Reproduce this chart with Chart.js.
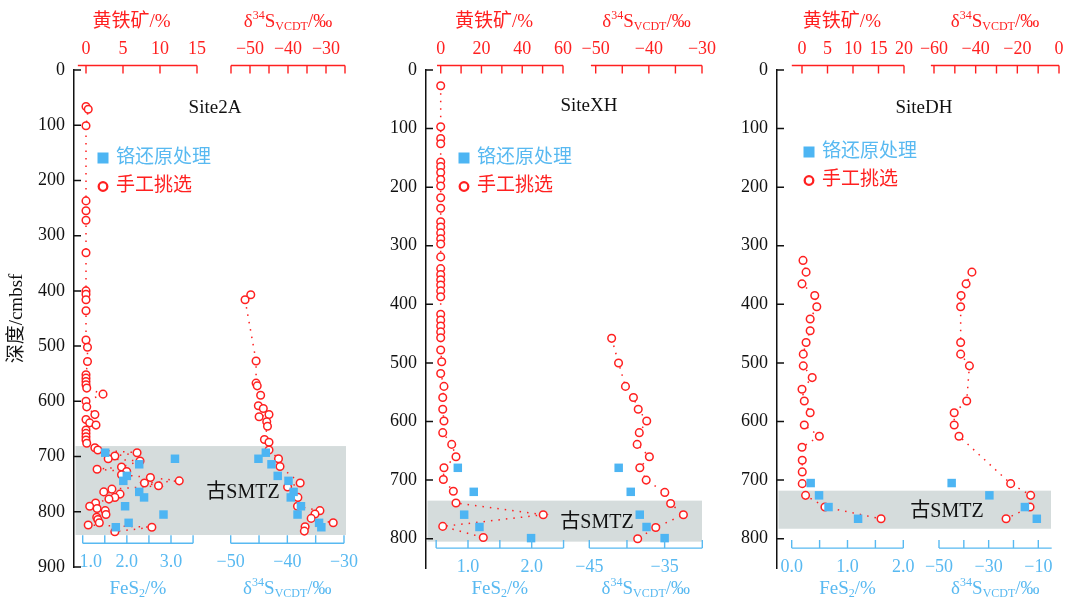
<!DOCTYPE html>
<html>
<head>
<meta charset="utf-8">
<script src="https://cdn.jsdelivr.net/npm/chart.js@4.4.1/dist/chart.umd.min.js"></script>
<style>
html, body { margin: 0; padding: 0; background: #fff; }
#wrap { position: relative; width: 1069px; height: 610px; overflow: hidden; }
canvas { position: absolute; top: 0; }
</style>
</head>
<body>
<div id="wrap">
  <canvas id="c0" width="372" height="610" style="left:0px"></canvas>
  <canvas id="c1" width="362" height="610" style="left:355px"></canvas>
  <canvas id="c2" width="354" height="610" style="left:715px"></canvas>
</div>
<script>
// ---------- data ----------
// Site2A : hand-picked pyrite (red), Cr-reduction (blue)
const s2aPyriteDepth = [66, 71, 101, 237, 255, 272, 331, 400, 406, 416, 436, 489, 502, 528, 552, 558, 564, 570, 576, 587,
  600, 610, 624, 633, 639, 643, 652, 658, 664, 670, 676, 684, 688, 693, 699, 704, 708, 719, 723, 727,
  733, 738, 744, 748, 753, 759, 764, 768, 774, 777, 784, 790, 794, 798, 805, 810, 814, 820, 824, 828, 836];
const s2aPyrite = [0, 0.3, 0, 0, 0, 0, 0, 0, 0, 0, 0, 0, 0.2, 0.2, 0, 0, 0, 0, 0.1, 2.3,
  0, 0.1, 1.2, 0, 0.5, 1.35, 0, 0, 0, 0, 0.1, 1.2, 1.6, 6.9, 3.9, 3.0, 7.3, 4.8, 1.5, 5.5,
  4.8, 8.7, 12.6, 7.9, 9.8, 3.5, 2.4, 4.6, 3.9, 3.1, 1.3, 0.5, 1.5, 2.6, 2.7, 1.45, 1.6, 1.8, 0.3, 8.9, 3.9];
const s2aD34sDepth = [407, 416, 527, 567, 572, 589, 608, 613, 624, 628, 637, 645, 669, 674, 688, 704, 718, 748, 755, 774,
  790, 798, 804, 812, 820, 827, 835];
const s2aD34s = [-49.8, -51.3, -48.4, -48.4, -48.1, -47.2, -47.8, -46.5, -45.0, -47.6, -45.6, -45.4, -46.2, -45.0, -45.0, -42.5, -42.1, -36.8, -40.1, -37.4,
  -37.5, -31.6, -32.9, -33.9, -28.1, -35.5, -35.7];
const s2aCrDepth = [693, 704, 714, 735, 744, 764, 774, 790, 805, 820, 828];
const s2aCrFes2 = [1.51, 3.09, 2.28, 2.0, 1.92, 2.28, 2.39, 1.96, 2.83, 2.04, 1.75];
const s2aCrD34s = [-43.8, -45.1, -42.8, -41.7, -39.8, -38.9, -39.4, -37.6, -38.2, -34.4, -34.0];
const s2aSmtz = [681, 842];

// SiteXH
const xhPyriteDepth = [27, 97, 117, 126, 157, 165, 175, 187, 198, 218, 236, 259, 268, 278, 288, 297, 319, 339, 349, 358,
  367, 377, 387, 417, 427, 437, 447, 457, 478, 498, 518, 540, 559, 579, 599, 619, 639, 660, 679, 699,
  719, 739, 759, 779, 798];
const xhPyrite = [0, 0, 0, 0, 0, 0, 0, 0, 0, 0, 0, 0, 0, 0, 0, 0, 0, 0, 0, 0,
  0, 0, 0, 0, 0, 0, 0, 0, 0, 0.5, 0, 1.6, 1.0, 1.0, 1.6, 1.0, 5.4, 7.5, 1.6, 1.3,
  6.2, 7.5, 50.3, 1.0, 20.9];
const xhD34sDepth = [458, 500, 540, 559, 579, 599, 619, 639, 660, 679, 700, 721, 740, 759, 781, 800];
const xhD34s = [-47.0, -45.7, -44.4, -42.9, -42.0, -40.4, -41.8, -42.2, -39.9, -41.7, -40.5, -37.0, -35.9, -33.5, -38.7, -42.1];
const xhCrDepth = [679, 720, 759, 780, 799];
const xhCrFes2 = [0.84, 1.09, 0.94, 1.18, 1.99];
const xhCrD34s = [-41.1, -39.5, -38.3, -37.4, -35.0];
const xhSmtz = [735, 805];

// SiteDH
const dhPyriteDepth = [325, 345, 365, 385, 404, 425, 445, 465, 485, 505, 525, 545, 565, 585, 606, 625, 644, 666, 686, 706,
  726, 746, 766];
const dhPyrite = [0.2, 0.8, 0.0, 2.5, 2.9, 1.6, 1.6, 0.8, 0.25, 0.25, 2.0, 0.0, 0.45, 1.6, 0.45, 3.4, 0.0, 0.05, 0.05, 0.05,
  0.7, 4.5, 15.5];
const dhD34sDepth = [345, 365, 385, 404, 465, 485, 505, 565, 585, 606, 625, 706, 726, 746, 766];
const dhD34s = [-41.8, -44.6, -47.0, -47.2, -47.2, -47.2, -43.0, -44.3, -50.3, -50.3, -48.0, -23.2, -13.6, -13.9, -25.4];
const dhCrDepth = [705, 726, 746, 766];
const dhCrFes2 = [0.34, 0.49, 0.66, 1.19];
const dhCrD34s = [-44.9, -29.7, -15.4, -10.6];
const dhSmtz = [718, 783];

// tick marks and tick labels of the split axes
const s2aPyTicks = [0, 5, 10, 15],            s2aPyLabels = [0, 5, 10, 15];
const s2aStTicks = [-55, -50, -45, -40, -35, -30, -25], s2aStLabels = [-50, -40, -30];
const s2aFeTicks = [1, 1.5, 2, 2.5, 3, 3.5],  s2aFeLabels = [1, 2, 3];
const s2aSbTicks = [-50, -45, -40, -35, -30], s2aSbLabels = [-50, -40, -30];
const xhPyTicks = [0, 10, 20, 30, 40, 50, 60], xhPyLabels = [0, 20, 40, 60];
const xhStTicks = [-50, -45, -40, -35, -30],  xhStLabels = [-50, -40, -30];
const xhFeTicks = [0.5, 1, 1.5, 2, 2.5],      xhFeLabels = [1, 2];
const xhSbTicks = [-45, -40, -35, -30],       xhSbLabels = [-45, -35];
const dhPyTicks = [0, 5, 10, 15, 20],         dhPyLabels = [0, 5, 10, 15, 20];
const dhStTicks = [-60, -50, -40, -30, -20, -10, 0], dhStLabels = [-60, -40, -20, 0];
const dhFeTicks = [0, 0.5, 1, 1.5, 2],        dhFeLabels = [0, 1, 2];
const dhSbTicks = [-50, -40, -30, -20, -10],  dhSbLabels = [-50, -30, -10];

// ---------- style ----------
const RED = '#ff2020';
const BLUE = '#4db5f3';
const BLUE_TXT = '#58b9f1';
const BAND = '#d5dcdc';
const SERIF = '"Liberation Serif", "Times New Roman", serif';
const MIX = '"Liberation Serif", "Noto Sans CJK SC", serif';

// ---------- layout of the three panels (page pixels) ----------
const panels = [
  { canvas: 'c0', left: 0, plotL: 74, plotR: 346, top: 70, bottom: 567, depthMax: 900, axisDepth: 857, yTitle: true,
    name: 'Site2A', nameX: 215, nameY: 108, legX: 103, legY: 158, smtz: s2aSmtz,
    py: [s2aPyrite, s2aPyriteDepth], st: [s2aD34s, s2aD34sDepth], fe: [s2aCrFes2, s2aCrDepth], sb: [s2aCrD34s, s2aCrDepth],
    axes: {
      xPy: { val: [0, 15], px: [86, 197], line: [-1.1, 15], ticks: s2aPyTicks, labels: s2aPyLabels, dec: 0, dx: -6 },
      xSt: { val: [-50, -30], px: [250, 326], line: [-55, -25], ticks: s2aStTicks, labels: s2aStLabels, dec: 0 },
      xFe: { val: [1, 3], px: [82.7, 171], line: [1, 3.5], ticks: s2aFeTicks, labels: s2aFeLabels, dec: 1, shift: [8, 0, 0] },
      xSb: { val: [-50, -30], px: [230.7, 344], line: [-50, -30], ticks: s2aSbTicks, labels: s2aSbLabels, dec: 0 } } },
  { canvas: 'c1', left: 355, plotL: 426, plotR: 702, top: 70, bottom: 568, depthMax: 850, axisDepth: 816, yTitle: false,
    name: 'SiteXH', nameX: 589, nameY: 106, legX: 464, legY: 158, smtz: xhSmtz,
    py: [xhPyrite, xhPyriteDepth], st: [xhD34s, xhD34sDepth], fe: [xhCrFes2, xhCrDepth], sb: [xhCrD34s, xhCrDepth],
    axes: {
      xPy: { val: [0, 60], px: [440.7, 563], line: [-1.8, 60], ticks: xhPyTicks, labels: xhPyLabels, dec: 0, dx: -6 },
      xSt: { val: [-50, -30], px: [595.7, 702], line: [-50.9, -30], ticks: xhStTicks, labels: xhStLabels, dec: 0 },
      xFe: { val: [1, 2], px: [468, 531.7], line: [0.5, 2.5], ticks: xhFeTicks, labels: xhFeLabels, dec: 1 },
      xSb: { val: [-45, -30], px: [589.3, 702.3], line: [-45, -30], ticks: xhSbTicks, labels: xhSbLabels, dec: 0 } } },
  { canvas: 'c2', left: 715, plotL: 777, plotR: 1051, top: 70, bottom: 568, depthMax: 850, axisDepth: 816, yTitle: false,
    name: 'SiteDH', nameX: 924, nameY: 108, legX: 809, legY: 152, smtz: dhSmtz,
    py: [dhPyrite, dhPyriteDepth], st: [dhD34s, dhD34sDepth], fe: [dhCrFes2, dhCrDepth], sb: [dhCrD34s, dhCrDepth],
    axes: {
      xPy: { val: [0, 20], px: [802, 904], line: [-2, 20], ticks: dhPyTicks, labels: dhPyLabels, dec: 0, dx: -6 },
      xSt: { val: [-60, 0], px: [934, 1059], line: [-61.5, 0], ticks: dhStTicks, labels: dhStLabels, dec: 0 },
      xFe: { val: [0, 2], px: [791.7, 903.3], line: [0, 2], ticks: dhFeTicks, labels: dhFeLabels, dec: 1 },
      xSb: { val: [-50, -10], px: [939, 1038.3], line: [-50, -4.6], ticks: dhSbTicks, labels: dhSbLabels, dec: 0 } } }
];

function pts(xs, ys) { return xs.map((v, i) => ({ x: v, y: ys[i] })); }
function fmt(v, dec) { return (v < 0 ? '\u2212' : '') + Math.abs(v).toFixed(dec); }

// value range of a hidden x scale so that the given values land on the given pixels
function calib(ax, L, R) {
  const k = (ax.px[1] - ax.px[0]) / (ax.val[1] - ax.val[0]);
  return { min: ax.val[0] + (L - ax.px[0]) / k, max: ax.val[0] + (R - ax.px[0]) / k };
}

function richText(ctx, parts, cx, cy, color) {
  let w = 0;
  parts.forEach(p => { ctx.font = p.f; p.w = ctx.measureText(p.t).width; w += p.w; });
  let x = cx - w / 2;
  ctx.fillStyle = color; ctx.textAlign = 'left'; ctx.textBaseline = 'middle';
  parts.forEach(p => { ctx.font = p.f; ctx.fillText(p.t, x, cy + (p.dy || 0)); x += p.w; });
}

const deltaTitle = [
  { t: '\u03b4', f: '19px ' + SERIF }, { t: '34', f: '12px ' + SERIF, dy: -6 },
  { t: 'S', f: '19px ' + SERIF }, { t: 'VCDT', f: '12px ' + SERIF, dy: 5 }, { t: '/\u2030', f: '19px ' + SERIF }];
const fesTitle = [
  { t: 'FeS', f: '19px ' + SERIF }, { t: '2', f: '12px ' + SERIF, dy: 5 }, { t: '/%', f: '19px ' + SERIF }];

function drawAxis(ctx, scale, ax, y, dir, color, labelY, titleParts, titleY) {
  const x0 = scale.getPixelForValue(ax.line[0]), x1 = scale.getPixelForValue(ax.line[1]);
  ctx.save();
  ctx.strokeStyle = color; ctx.lineWidth = 1.4;
  ctx.beginPath();
  ctx.moveTo(x0, y); ctx.lineTo(x1, y);
  ax.ticks.forEach(v => { const x = scale.getPixelForValue(v); ctx.moveTo(x, y); ctx.lineTo(x, y + dir * 8); });
  ctx.stroke();
  ctx.fillStyle = color; ctx.font = '18px ' + SERIF; ctx.textAlign = 'center'; ctx.textBaseline = 'middle';
  ax.labels.forEach((v, i) => ctx.fillText(fmt(v, ax.dec), scale.getPixelForValue(v) + (ax.shift ? ax.shift[i] : 0), labelY));
  richText(ctx, titleParts, (x0 + x1) / 2 + (dir > 0 ? (ax.dx || 0) : 0), titleY, color);
  ctx.restore();
}

function makePanel(P) {
  const L = P.plotL, R = P.plotR;
  const canvas = document.getElementById(P.canvas);
  const decor = {
    id: 'decor',
    beforeDatasetsDraw(chart) {
      const { ctx, chartArea: ca, scales } = chart;
      const y0 = scales.y.getPixelForValue(P.smtz[0]), y1 = scales.y.getPixelForValue(P.smtz[1]);
      ctx.save();
      ctx.fillStyle = BAND;
      ctx.fillRect(ca.left + 1.5, y0, ca.right - ca.left - 1.5, y1 - y0);
      ctx.restore();
    },
    afterDraw(chart) {
      const { ctx, chartArea: ca, scales } = chart;
      const ys = scales.y;
      ctx.save();
      // inward depth ticks
      ctx.strokeStyle = '#111'; ctx.lineWidth = 1.5;
      ctx.beginPath();
      ys.ticks.forEach(t => { const y = ys.getPixelForValue(t.value); ctx.moveTo(ca.left, y); ctx.lineTo(ca.left + 7, y); });
      ctx.stroke();
      ctx.restore();
      // split axes, top (red) and bottom (blue)
      const topY = ca.top - 4.5;
      const botY = ys.getPixelForValue(P.axisDepth);
      const pyTitle = [{ t: '\u9ec4\u94c1\u77ff/%', f: '19px ' + MIX }];
      drawAxis(ctx, scales.xPy, P.axes.xPy, topY, 1, RED, 49, pyTitle, 22);
      drawAxis(ctx, scales.xSt, P.axes.xSt, topY, 1, RED, 49, deltaTitle, 22);
      drawAxis(ctx, scales.xFe, P.axes.xFe, botY, -1, BLUE_TXT, botY + 19.5, fesTitle, 589);
      drawAxis(ctx, scales.xSb, P.axes.xSb, botY, -1, BLUE_TXT, botY + 19.5, deltaTitle, 589);
      // site name
      ctx.save();
      ctx.fillStyle = '#111'; ctx.font = '19px ' + SERIF; ctx.textAlign = 'center'; ctx.textBaseline = 'middle';
      ctx.fillText(P.name, P.nameX - P.left, P.nameY);
      // legend
      const lx = P.legX - P.left, ly = P.legY;
      ctx.fillStyle = BLUE;
      ctx.fillRect(lx - 5.5, ly - 5.5, 11, 11);
      ctx.strokeStyle = RED; ctx.lineWidth = 2.3;
      ctx.beginPath(); ctx.arc(lx, ly + 28.5, 4.3, 0, Math.PI * 2); ctx.stroke();
      ctx.font = '19px ' + MIX; ctx.textAlign = 'left';
      ctx.fillStyle = BLUE_TXT; ctx.fillText('\u94ec\u8fd8\u539f\u5904\u7406', lx + 13, ly);
      ctx.fillStyle = RED; ctx.fillText('\u624b\u5de5\u6311\u9009', lx + 13, ly + 28.5);
      // paleo-SMTZ label
      ctx.fillStyle = '#111'; ctx.font = '20px ' + MIX; ctx.textAlign = 'center';
      const ym = (ys.getPixelForValue(P.smtz[0]) + ys.getPixelForValue(P.smtz[1])) / 2 + 2;
      ctx.fillText('\u53e4SMTZ', (ca.left + ca.right) / 2 + 33, ym);
      ctx.restore();
    }
  };

  const redLine = {
    showLine: true, borderColor: RED, borderWidth: 1.5, borderDash: [1.5, 6],
    pointStyle: 'circle', pointRadius: 3.8, pointBorderWidth: 1.5,
    pointBorderColor: RED, pointBackgroundColor: '#fff', clip: false
  };
  const blueSq = {
    showLine: false, pointStyle: 'rect', pointRadius: 6, pointBorderWidth: 0,
    pointBackgroundColor: BLUE, pointBorderColor: BLUE, clip: false
  };

  const hidden = (id, pos) => Object.assign({ type: 'linear', axis: 'x', position: pos, display: false }, calib(P.axes[id], L, R));

  return new Chart(canvas, {
    type: 'scatter',
    data: {
      datasets: [
        Object.assign({ label: 'FeS2', data: pts(P.fe[0], P.fe[1]), xAxisID: 'xFe', yAxisID: 'y' }, blueSq),
        Object.assign({ label: 'd34S Cr', data: pts(P.sb[0], P.sb[1]), xAxisID: 'xSb', yAxisID: 'y' }, blueSq),
        Object.assign({ label: 'pyrite', data: pts(P.py[0], P.py[1]), xAxisID: 'xPy', yAxisID: 'y' }, redLine),
        Object.assign({ label: 'd34S hand', data: pts(P.st[0], P.st[1]), xAxisID: 'xSt', yAxisID: 'y' }, redLine)
      ]
    },
    options: {
      responsive: false, animation: false, devicePixelRatio: 1, events: [],
      layout: { padding: { left: 0, top: P.top, right: P.left + canvas.width - R, bottom: 610 - P.bottom } },
      scales: {
        y: {
          type: 'linear', position: 'left', reverse: true, min: 0, max: P.depthMax,
          afterFit: s => { s.width = P.plotL - P.left; },
          ticks: { stepSize: 100, includeBounds: false, padding: 9, color: '#111', font: { family: SERIF, size: 18 } },
          grid: { drawOnChartArea: false, drawTicks: false },
          border: { color: '#111', width: 1.5 },
          title: { display: P.yTitle, text: '\u6df1\u5ea6/cmbsf', color: '#111', font: { family: MIX, size: 19 }, padding: { top: 6, bottom: 0 } }
        },
        xPy: hidden('xPy', 'top'),
        xSt: hidden('xSt', 'top'),
        xFe: hidden('xFe', 'bottom'),
        xSb: hidden('xSb', 'bottom')
      },
      plugins: { legend: { display: false }, tooltip: { enabled: false } }
    },
    plugins: [decor]
  });
}

panels.forEach(makePanel);
</script>
</body>
</html>
